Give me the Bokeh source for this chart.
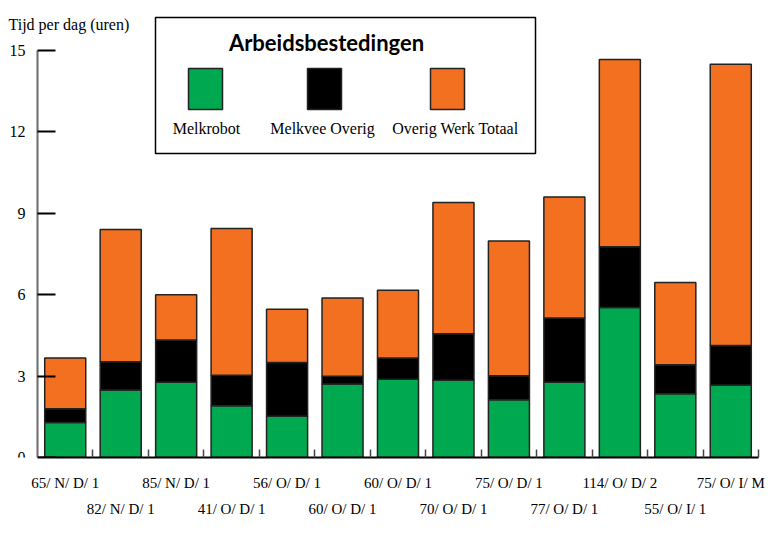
from bokeh.plotting import figure
from bokeh.models import Range1d, FixedTicker, LinearAxis, BoxAnnotation, Label, ColumnDataSource
from bokeh.embed import file_html
from bokeh.resources import INLINE

# ---- data ----
categories = ["65/ N/ D/ 1", "82/ N/ D/ 1", "85/ N/ D/ 1", "41/ O/ D/ 1", "56/ O/ D/ 1",
              "60/ O/ D/ 1", "60/ O/ D/ 1", "70/ O/ D/ 1", "75/ O/ D/ 1", "77/ O/ D/ 1",
              "114/ O/ D/ 2", "55/ O/ I/ 1", "75/ O/ I/ M"]
series_names = ["Melkrobot", "Melkvee Overig", "Overig Werk Totaal"]
melkrobot = [1.29, 2.49, 2.77, 1.91, 1.52, 2.71, 2.88, 2.85, 2.13, 2.77, 5.53, 2.35, 2.67]
melkvee_overig = [0.51, 1.04, 1.56, 1.12, 1.98, 0.28, 0.79, 1.71, 0.88, 2.37, 2.24, 1.07, 1.46]
overig_werk = [1.87, 4.87, 1.67, 5.41, 1.96, 2.89, 2.49, 4.84, 4.97, 4.46, 6.90, 3.03, 10.36]
y_ticks = [0, 3, 6, 9, 12, 15]
colors = ["#00A94F", "#000000", "#F37021"]
title_text = "Arbeidsbestedingen"
y_title = "Tijd per dag (uren)"

n = len(categories)
idx = list(range(n))
src = ColumnDataSource(dict(x=idx, **{series_names[0]: melkrobot,
                                      series_names[1]: melkvee_overig,
                                      series_names[2]: overig_werk}))

# frame spans the full width on the left; the y axis sits at x = -0.5
px_per_cat = (758 - 37) / 13.0
x_start = -0.5 - 37 / px_per_cat
B = 457
y_end = 15 * B / (B - 50)

p = figure(width=766, height=519, x_range=Range1d(x_start, n - 0.5), y_range=Range1d(0, y_end),
           output_backend="svg", toolbar_location=None, x_axis_type=None, y_axis_type=None,
           min_border_left=0, min_border_right=8, min_border_top=0, min_border_bottom=62)
p.outline_line_color = None
p.background_fill_color = "white"

p.vbar_stack(stackers=series_names, x="x", width=0.74, fill_color=colors,
             line_color="#222222", line_width=1.5, source=src)

FONT = "Liberation Serif"

yaxis = LinearAxis(ticker=FixedTicker(ticks=y_ticks), bounds=(0, 15), fixed_location=-0.5,
                   axis_line_color="#6b6b6b", axis_line_width=2,
                   major_tick_line_color="black", major_tick_line_width=2,
                   major_tick_in=18, major_tick_out=0, minor_tick_line_color=None,
                   major_label_standoff=12, major_label_text_font=FONT,
                   major_label_text_font_size="16px", major_label_text_color="black",
                   major_label_text_baseline="top")
p.add_layout(yaxis, "left")

even = [i for i in idx if i % 2 == 0]
odd = [i for i in idx if i % 2 == 1]
bounds = [i + 0.5 for i in idx]

xaxis1 = LinearAxis(ticker=FixedTicker(ticks=even, minor_ticks=bounds), bounds=(-0.5, n - 0.5),
                    major_label_overrides={i: categories[i] for i in even},
                    axis_line_color="black", axis_line_width=2,
                    major_tick_line_color=None, major_tick_in=0, major_tick_out=0,
                    minor_tick_in=8, minor_tick_out=0, minor_tick_line_color="#444444",
                    minor_tick_line_width=1.5, major_label_standoff=17,
                    major_label_text_font=FONT, major_label_text_font_size="15px",
                    major_label_text_color="black")
xaxis2 = LinearAxis(ticker=FixedTicker(ticks=odd),
                    major_label_overrides={i: categories[i] for i in odd},
                    axis_line_color=None, major_tick_line_color=None, minor_tick_line_color=None,
                    major_tick_in=0, major_tick_out=0, major_label_standoff=7,
                    major_label_text_font=FONT, major_label_text_font_size="15px",
                    major_label_text_color="black")
p.add_layout(xaxis1, "below")
p.add_layout(xaxis2, "below")

# y title
p.add_layout(Label(x=8, y=B - 24, x_units="screen", y_units="screen", text=y_title,
                   text_align="left", text_baseline="middle", text_font=FONT,
                   text_font_size="16px", text_color="black"))

# legend box
p.add_layout(BoxAnnotation(left=155, right=535, bottom=B - 153, top=B - 17,
                           left_units="screen", right_units="screen",
                           bottom_units="screen", top_units="screen",
                           fill_color="white", fill_alpha=1.0,
                           line_color="black", line_width=1.5, line_alpha=1.0))
p.add_layout(Label(x=326, y=B - 42, x_units="screen", y_units="screen", text=title_text,
                   text_align="center", text_baseline="middle", text_font="Lato",
                   text_font_style="bold", text_font_size="22px", text_color="black"))
sw_centers = [205, 324, 447]
lab_centers = [206, 322, 455]
for name, col, sc, lc in zip(series_names, colors, sw_centers, lab_centers):
    p.add_layout(BoxAnnotation(left=sc - 17, right=sc + 17, bottom=B - 109, top=B - 68,
                               left_units="screen", right_units="screen",
                               bottom_units="screen", top_units="screen",
                               fill_color=col, fill_alpha=1.0,
                               line_color="#222222", line_width=1.5, line_alpha=1.0))
    p.add_layout(Label(x=lc, y=B - 128, x_units="screen", y_units="screen", text=name,
                       text_align="center", text_baseline="middle", text_font=FONT,
                       text_font_size="16px", text_color="black"))

open("out.html", "w").write(file_html(p, INLINE))
